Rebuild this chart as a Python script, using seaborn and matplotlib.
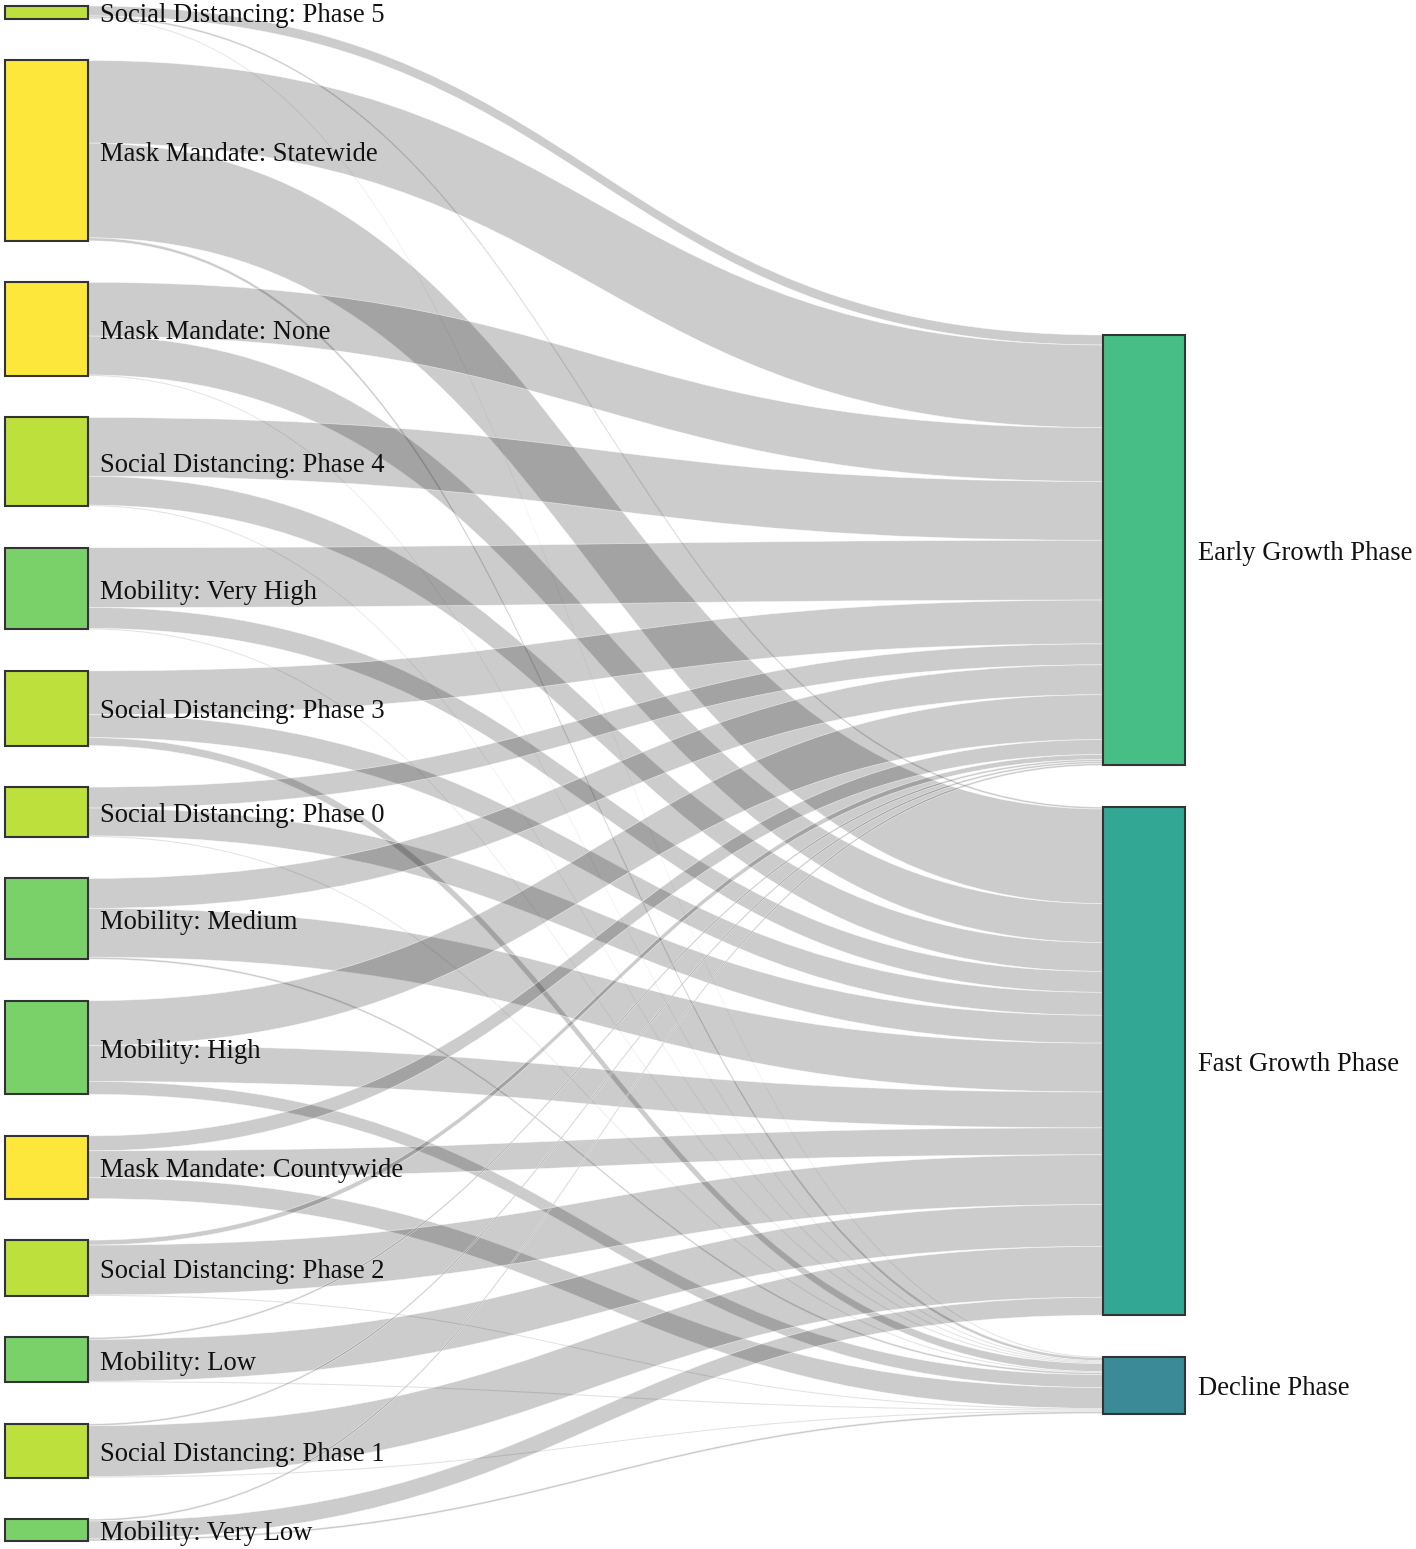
# Sankey: fatores de intervenção -> fase da epidemia
import numpy as np
import pandas as pd
import matplotlib
matplotlib.use("Agg")
import matplotlib.pyplot as plt
from matplotlib.path import Path
from matplotlib.patches import PathPatch, Rectangle
import seaborn as sns

# Dados
sources = [
    "Social Distancing: Phase 5",
    "Mask Mandate: Statewide",
    "Mask Mandate: None",
    "Social Distancing: Phase 4",
    "Mobility: Very High",
    "Social Distancing: Phase 3",
    "Social Distancing: Phase 0",
    "Mobility: Medium",
    "Mobility: High",
    "Mask Mandate: Countywide",
    "Social Distancing: Phase 2",
    "Mobility: Low",
    "Social Distancing: Phase 1",
    "Mobility: Very Low",
]
targets = ["Early Growth Phase", "Fast Growth Phase", "Decline Phase"]

early_vals = [10, 83, 54, 59, 60, 44, 21, 30, 45, 15, 5, 2, 2, 2]
fast_vals = [2, 95, 39, 29, 21, 23, 28, 49, 36, 27, 50, 42, 51, 18]
decline_vals = [1, 3, 1, 1, 1, 8, 1, 2, 13, 21, 1, 1, 1, 2]

group_colors = {
    "Mask Mandate": "#fde73a",
    "Social Distancing": "#bde03d",
    "Mobility": "#7ad16a",
}
target_colors = ["#47be85", "#32a794", "#3a8a98"]

links = pd.DataFrame({"source": sources, targets[0]: early_vals,
                      targets[1]: fast_vals, targets[2]: decline_vals})
links = links.melt(id_vars="source", var_name="target", value_name="value")

sns.set_theme(style="white")
plt.rcParams["font.family"] = ["Liberation Serif", "DejaVu Serif"]

W, H = 1416, 1549
fig = plt.figure(figsize=(W / 100, H / 100), dpi=100)
ax = fig.add_axes([0, 0, 1, 1])
ax.set_xlim(0, W)
ax.set_ylim(H, 0)
ax.axis("off")

# layout
left_x0, left_x1 = 5, 88
right_x0, right_x1 = 1103, 1185
top, bottom = 6, 1541
pad = 41.5
right_top = 335
fs = 19.2
text_dy = 3.5

src_tot = links.groupby("source", sort=False)["value"].sum().reindex(sources)
tgt_tot = links.groupby("target", sort=False)["value"].sum().reindex(targets)
ky = (bottom - top - (len(sources) - 1) * pad) / src_tot.sum()

src_y = {}
y = top
for s in sources:
    src_y[s] = y
    y += src_tot[s] * ky + pad
tgt_y = {}
y = right_top
for t in targets:
    tgt_y[t] = y
    y += tgt_tot[t] * ky + pad

# links: na origem na ordem dos destinos, no destino na ordem das origens
val = links.set_index(["source", "target"])["value"]
xm = (left_x1 + right_x0) / 2
ys, yt = {}, {}
off = dict(src_y)
for s in sources:
    for t in targets:
        ys[(s, t)] = off[s]
        off[s] += val[(s, t)] * ky
off = dict(tgt_y)
for t in targets:
    for s in sources:
        yt[(s, t)] = off[t]
        off[t] += val[(s, t)] * ky

for s in sources:
    for t in targets:
        w = val[(s, t)] * ky
        a, b = ys[(s, t)], yt[(s, t)]
        verts = [(left_x1, a), (xm, a), (xm, b), (right_x0, b),
                 (right_x0, b + w), (xm, b + w), (xm, a + w), (left_x1, a + w),
                 (left_x1, a)]
        codes = [Path.MOVETO, Path.CURVE4, Path.CURVE4, Path.CURVE4,
                 Path.LINETO, Path.CURVE4, Path.CURVE4, Path.CURVE4,
                 Path.CLOSEPOLY]
        ax.add_patch(PathPatch(Path(verts, codes), facecolor=(0, 0, 0, 0.2),
                               edgecolor=(1, 1, 1, 0.6), lw=0.5))

# nós
for s in sources:
    h = src_tot[s] * ky
    col = group_colors[s.split(":")[0]]
    ax.add_patch(Rectangle((left_x0, src_y[s]), left_x1 - left_x0, h,
                           facecolor=col, edgecolor="#333333", lw=1.5))
    ax.text(left_x1 + 12, src_y[s] + h / 2 + text_dy, s, fontsize=fs,
            va="center", ha="left", color="#111111")
for t, col in zip(targets, target_colors):
    h = tgt_tot[t] * ky
    ax.add_patch(Rectangle((right_x0, tgt_y[t]), right_x1 - right_x0, h,
                           facecolor=col, edgecolor="#333333", lw=1.5))
    ax.text(right_x1 + 13, tgt_y[t] + h / 2 + text_dy, t, fontsize=fs,
            va="center", ha="left", color="#111111")

fig.savefig("out.png", dpi=100)
